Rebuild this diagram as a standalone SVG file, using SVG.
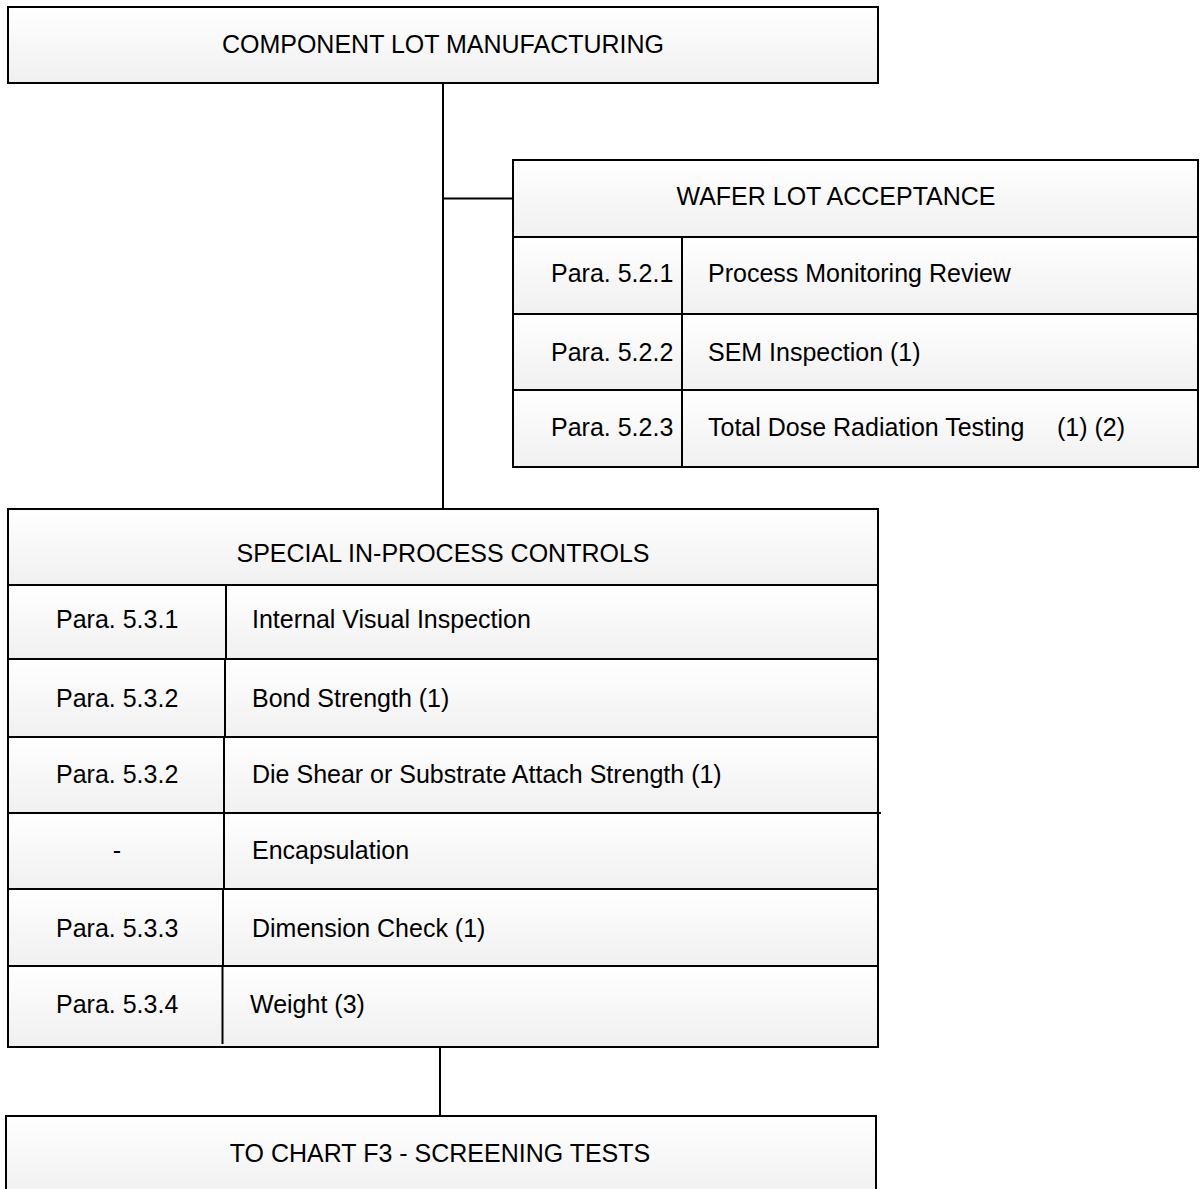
<svg xmlns="http://www.w3.org/2000/svg" width="1202" height="1189" viewBox="0 0 1202 1189">
<defs>
<linearGradient id="g" x1="0" y1="0" x2="0" y2="1">
<stop offset="0" stop-color="#ffffff"/>
<stop offset="1" stop-color="#f0f0f0"/>
</linearGradient>
<style>
.cell{fill:url(#g);stroke:#000;stroke-width:2}
.ln{stroke:#000;stroke-width:2;fill:none}
text{font-family:"Liberation Sans",Arial,sans-serif;font-size:25px;fill:#000}
.c{text-anchor:middle}
</style>
</defs>
<rect width="1202" height="1189" fill="#fff"/>
<g id="connectors">
<line class="ln" x1="443" y1="83" x2="443" y2="509"/>
<line class="ln" x1="443" y1="198.5" x2="513" y2="198.5"/>
<line class="ln" x1="440" y1="1047" x2="440" y2="1116"/>
</g>
<g id="component-lot-manufacturing">
<rect class="cell" x="8" y="7" width="870" height="76"/>
<text class="c" x="443" y="53">COMPONENT LOT MANUFACTURING</text>
</g>
<g id="wafer-lot-acceptance">
<rect class="cell" x="513" y="160" width="685" height="77"/>
<text class="c" x="836" y="205">WAFER LOT ACCEPTANCE</text>
<rect class="cell" x="513" y="237" width="685" height="77"/>
<rect class="cell" x="513" y="314" width="685" height="76"/>
<rect class="cell" x="513" y="390" width="685" height="77"/>
<line class="ln" x1="682" y1="237" x2="682" y2="467"/>
<text x="551" y="282">Para. 5.2.1</text>
<text x="708" y="282">Process Monitoring Review</text>
<text x="551" y="361">Para. 5.2.2</text>
<text x="708" y="361">SEM Inspection (1)</text>
<text x="551" y="436">Para. 5.2.3</text>
<text x="708" y="436">Total Dose Radiation Testing</text>
<text x="1057" y="436">(1) (2)</text>
</g>
<g id="special-in-process-controls">
<rect class="cell" x="8" y="509" width="870" height="76"/>
<text class="c" x="443" y="562">SPECIAL IN-PROCESS CONTROLS</text>
<rect class="cell" x="8" y="585" width="870" height="74"/>
<rect class="cell" x="8" y="659" width="870" height="78"/>
<rect class="cell" x="8" y="737" width="870" height="76"/>
<rect class="cell" x="8" y="813" width="870" height="76"/>
<rect class="cell" x="8" y="889" width="870" height="77"/>
<rect class="cell" x="8" y="966" width="870" height="81"/>
<line class="ln" x1="878" y1="813" x2="881" y2="813"/>
<line class="ln" x1="226" y1="585" x2="226" y2="659"/>
<line class="ln" x1="225" y1="659" x2="225" y2="737"/>
<line class="ln" x1="224" y1="737" x2="224" y2="813"/>
<line class="ln" x1="224" y1="813" x2="224" y2="889"/>
<line class="ln" x1="223" y1="889" x2="223" y2="966"/>
<line class="ln" x1="222.5" y1="966" x2="222.5" y2="1044"/>
<text x="56" y="628">Para. 5.3.1</text>
<text x="252" y="628">Internal Visual Inspection</text>
<text x="56" y="707">Para. 5.3.2</text>
<text x="252" y="707">Bond Strength (1)</text>
<text x="56" y="783">Para. 5.3.2</text>
<text x="252" y="783">Die Shear or Substrate Attach Strength (1)</text>
<text class="c" x="117" y="859">-</text>
<text x="252" y="859">Encapsulation</text>
<text x="56" y="937">Para. 5.3.3</text>
<text x="252" y="937">Dimension Check (1)</text>
<text x="56" y="1013">Para. 5.3.4</text>
<text x="250" y="1013">Weight (3)</text>
</g>
<g id="to-chart-f3">
<rect class="cell" x="6" y="1116" width="870" height="80"/>
<text class="c" x="440" y="1162">TO CHART F3 - SCREENING TESTS</text>
</g>
</svg>
